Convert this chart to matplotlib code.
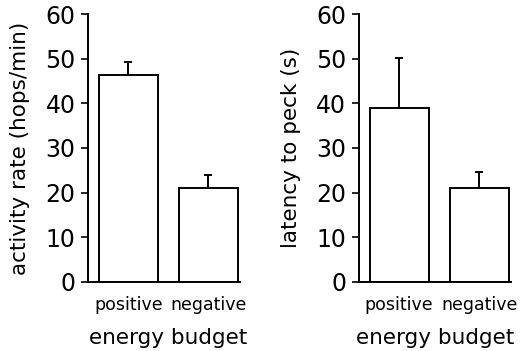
import numpy as np
import matplotlib
matplotlib.use('Agg')
import matplotlib.pyplot as plt

categories = ['positive', 'negative']
activity_mean = [46.4, 21.0]
activity_err = [2.9, 2.9]
latency_mean = [38.9, 21.0]
latency_err = [11.3, 3.7]
yticks = [0, 10, 20, 30, 40, 50, 60]

plt.rcParams['font.family'] = ['DejaVu Sans']

fig = plt.figure(figsize=(5.2, 3.51), dpi=100)
ax1 = fig.add_axes([0.169, 0.197, 0.292, 0.763])
ax2 = fig.add_axes([0.69, 0.197, 0.292, 0.763])


def draw_panel(ax, means, errs, ylabel, xlab_x):
    x = np.arange(len(categories))
    ax.bar(x, means, width=0.74, color='white', edgecolor='black',
           linewidth=1.4, zorder=2)
    ax.errorbar(x, means, yerr=[np.zeros(len(errs)), errs], fmt='none',
                ecolor='black', elinewidth=1.4, capsize=2.6, capthick=1.4,
                zorder=1)
    ax.set_xlim(-0.505, 1.395)
    ax.set_ylim(0, 60)
    ax.set_yticks(yticks)
    ax.set_yticklabels([str(t) for t in yticks], fontsize=17)
    ax.set_xticks(x)
    ax.set_xticklabels(categories, fontsize=12.5)
    ax.tick_params(axis='x', length=0, pad=10)
    ax.tick_params(axis='y', length=5, width=1.2, direction='out', pad=4)
    for s in ['top', 'right']:
        ax.spines[s].set_visible(False)
    ax.spines['left'].set_linewidth(1.4)
    ax.spines['bottom'].set_linewidth(1.4)
    ax.set_ylabel(ylabel, fontsize=15.5, labelpad=11)
    ax.set_xlabel('energy budget', fontsize=15.5, labelpad=10, x=xlab_x)


draw_panel(ax1, activity_mean, activity_err, 'activity rate (hops/min)', 0.53)
draw_panel(ax2, latency_mean, latency_err, 'latency to peck (s)', 0.5)

fig.savefig('out.png', dpi=100)
